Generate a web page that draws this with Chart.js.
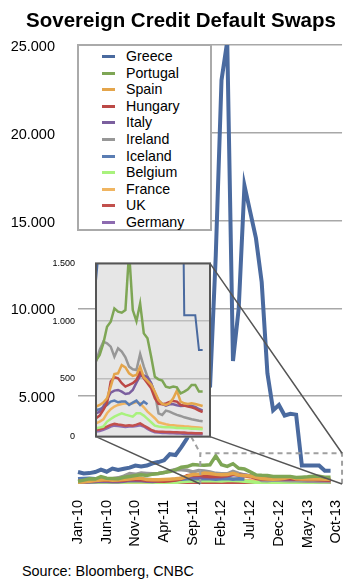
<!DOCTYPE html>
<html>
<head>
<meta charset="utf-8">
<script src="https://cdn.jsdelivr.net/npm/chart.js@4"></script>
<style>
  body { margin: 0; background: #fff; font-family: "Liberation Sans", Arial, Helvetica, sans-serif; }
  #wrap { position: relative; width: 362px; height: 585px; overflow: hidden; }
  #title { position: absolute; left: 0; top: 7.6px; width: 362px; text-align: center; font-weight: bold; font-size: 20.5px; line-height: 24px; }
  #main { position: absolute; left: 0; top: 0; }
  #inset { position: absolute; left: 40px; top: 255px; }
  #legend { position: absolute; left: 77px; top: 44px; width: 131px; height: 181px; padding-top: 2px; border: 2px solid #aaa; background: #fff; }
  .item { position: relative; height: 16.6px; line-height: 16.6px; font-size: 14.2px; padding-left: 47px; }
  .item span { position: absolute; left: 23px; top: 7px; width: 13px; height: 3px; }
  #source { position: absolute; left: 22px; top: 562.5px; font-size: 14.4px; line-height: 17px; }
</style>
</head>
<body>
<div id="wrap">
  <canvas id="main" width="362" height="550"></canvas>
  <canvas id="inset" width="175" height="190"></canvas>
  <div id="legend"></div>
  <div id="title">Sovereign Credit Default Swaps</div>
  <div id="source">Source: Bloomberg, CNBC</div>
</div>
<script>
// monthly, Jan-10 .. Nov-13
const months = ["Jan-10","Feb-10","Mar-10","Apr-10","May-10","Jun-10","Jul-10","Aug-10","Sep-10","Oct-10","Nov-10","Dec-10",
  "Jan-11","Feb-11","Mar-11","Apr-11","May-11","Jun-11","Jul-11","Aug-11","Sep-11","Oct-11","Nov-11","Dec-11",
  "Jan-12","Feb-12","Mar-12","Apr-12","May-12","Jun-12","Jul-12","Aug-12","Sep-12","Oct-12","Nov-12","Dec-12",
  "Jan-13","Feb-13","Mar-13","Apr-13","May-13","Jun-13","Jul-13","Aug-13","Sep-13","Oct-13","Nov-13"];

const greece   = [680, 600, 620, 680, 820, 700, 880, 800, 870, 930, 1050, 1000, 1050, 1180, 1250, 1350, 1700, 1650, 2100, 2600,
  3500, 5000, 8000, 5500, 13000, 23000, 25200, 7000, 10000, 17000, 15500, 14000, 11500, 6300, 4200, 4500, 3900, 4000, 3950, 1050,
  1050, 1050, 1050, 750, 750];
const portugal = [150, 220, 300, 280, 420, 330, 320, 300, 380, 430, 480, 520, 480, 560, 600,
  658, 707, 808, 952, 995, 1110, 1082, 1073, 1096, 1600, 1096, 1000, 1154, 894, 851, 692, 519, 496, 485, 433, 424, 433, 427, 375, 390, 410, 447, 447, 390, 390];
const spain    = [100, 110, 150, 200, 230, 250, 220, 230, 250, 290, 330, 330, 250, 240, 240,
  260, 274, 294, 332, 433, 542, 548, 620, 600, 548, 525, 534, 606, 514, 482, 450, 389, 317, 283, 274, 288, 332, 398, 303, 288, 283, 288, 283, 274, 265];
const hungary  = [150, 160, 170, 200, 220, 210, 200, 200, 220, 260, 250, 240, 220, 200, 170,
  159, 182, 231, 288, 476, 514, 505, 462, 433, 447, 462, 490, 563, 505, 462, 418, 332, 283, 280, 288, 300, 309, 303, 274, 268, 260, 254, 242, 225, 213];
const italy    = [80, 90, 110, 130, 160, 140, 130, 130, 150, 200, 180, 180, 150, 140, 170,
  202, 216, 260, 323, 381, 398, 404, 389, 369, 375, 404, 467, 525, 528, 514, 462, 375, 312, 283, 268, 280, 280, 271, 265, 268, 271, 265, 257, 239, 225];
const ireland  = [150, 150, 180, 220, 250, 270, 300, 350, 450, 600, 550, 620, 600, 580, 600,
  650, 750, 822, 808, 779, 692, 765, 736, 687, 606, 583, 577, 715, 606, 519, 462, 375, 202, 188, 225, 216, 202, 188, 179, 167, 159, 150, 144, 138, 133];
const iceland  = [300, 320, 330, 300, 290, 280, 260, 250, 250, 270, 290, 280, 260, 240, 230,
  231, 237, 254, 274, 303, 312, 297, 303, 303, 274, 294, 312, 274, 303, 280];
const belgium  = [40, 40, 60, 80, 90, 80, 80, 80, 100, 130, 120, 130, 110, 90, 80,
  72, 78, 87, 130, 153, 173, 188, 202, 190, 182, 173, 202, 202, 182, 153, 124, 95, 87, 84, 81, 81, 78, 75, 75, 72, 72, 69, 69, 66, 63];
const france   = [50, 50, 60, 70, 80, 70, 70, 70, 80, 100, 100, 95, 90, 80, 100,
  115, 130, 150, 202, 237, 260, 274, 283, 288, 283, 288, 300, 288, 254, 216, 188, 159, 124, 115, 107, 101, 98, 95, 92, 89, 87, 84, 81, 78, 75];
const uk       = [70, 75, 80, 80, 85, 75, 70, 65, 70, 70, 70, 65, 60, 55, 55,
  58, 63, 72, 87, 101, 110, 104, 101, 95, 98, 95, 104, 115, 95, 78, 58, 46, 43, 43, 40, 40, 37, 37, 35, 35, 32, 32, 29, 29, 29];
const germany  = [40, 40, 45, 50, 50, 45, 40, 40, 45, 55, 55, 50, 45, 40, 40,
  43, 49, 58, 72, 87, 95, 92, 87, 84, 87, 87, 92, 98, 87, 66, 49, 37, 35, 32, 32, 29, 29, 26, 26, 23, 23, 23, 20, 20, 20];

const countries = ["Greece", "Portugal", "Spain", "Hungary", "Italy", "Ireland", "Iceland", "Belgium", "France", "UK", "Germany"];
const series = [greece, portugal, spain, hungary, italy, ireland, iceland, belgium, france, uk, germany];
const colors = ["#4a6a9f", "#7ea655", "#e4a54b", "#bc4946", "#7b5f9e", "#979797", "#5a7db3", "#a9f27d", "#f0b561", "#c2504d", "#8d6bb0"];

const insetStart = 15;        // inset begins Apr-11
const zoomFrom = 21.3;        // dashed box: from ~Oct-11 ...
const zoomTop = 1750;         // ... up to this level

const FONT = '"Liberation Sans", Arial, Helvetica, sans-serif';
const fmt = v => String(v).replace(/\B(?=(\d{3})+(?!\d))/g, ".");

// legend
const legend = document.getElementById("legend");
countries.forEach((c, i) => {
  const row = document.createElement("div");
  row.className = "item";
  row.innerHTML = `<span style="background:${colors[i]}"></span>${c}`;
  legend.appendChild(row);
});

// zoomed inset
const insetFrame = {
  id: "insetFrame",
  beforeDraw(chart) {
    const a = chart.chartArea, ctx = chart.ctx;
    ctx.save();
    ctx.fillStyle = "#e6e6e6";
    ctx.fillRect(a.left, a.top, a.right - a.left, a.bottom - a.top);
    ctx.restore();
  },
  afterDraw(chart) {
    const a = chart.chartArea, ctx = chart.ctx;
    ctx.save();
    ctx.strokeStyle = "#555";
    ctx.lineWidth = 2;
    ctx.strokeRect(a.left, a.top, a.right - a.left, a.bottom - a.top);
    ctx.restore();
  }
};

const insetChart = new Chart(document.getElementById("inset"), {
  type: "line",
  data: {
    labels: months.slice(insetStart),
    datasets: series.map((s, i) => ({
      label: countries[i],
      data: s.slice(insetStart),
      borderColor: colors[i],
      borderWidth: i === 0 ? 2 : 2.5,
      pointRadius: 0,
      fill: false
    }))
  },
  options: {
    responsive: false,
    animation: false,
    layout: { padding: { top: 8, right: 5, bottom: 8, left: 0 } },
    plugins: { legend: { display: false }, tooltip: { enabled: false } },
    scales: {
      x: { display: false },
      y: {
        min: 0, max: 1500,
        ticks: { stepSize: 500, padding: 3, color: "#000", font: { family: FONT, size: 9 }, callback: v => fmt(v) },
        grid: { color: "#bdbdbd", lineWidth: 1.5, drawTicks: true, tickLength: 18, tickColor: "rgba(0,0,0,0)" },
        border: { display: false },
        afterFit: s => { s.width = 56; }
      }
    }
  },
  plugins: [insetFrame]
});

// dashed zoom box + connectors to the inset
const zoomBox = {
  id: "zoomBox",
  afterDatasetsDraw(chart) {
    const ctx = chart.ctx, x = chart.scales.x, y = chart.scales.y;
    const bx0 = x.getPixelForValue(zoomFrom), bx1 = x.right;
    const by0 = y.getPixelForValue(zoomTop), by1 = y.bottom;
    const cv = insetChart.canvas, ia = insetChart.chartArea;
    const il = cv.offsetLeft + ia.left, ir = cv.offsetLeft + ia.right;
    const it = cv.offsetTop + ia.top, ib = cv.offsetTop + ia.bottom;

    ctx.save();
    ctx.strokeStyle = "#a0a0a0";
    ctx.lineWidth = 2;
    ctx.setLineDash([5, 4]);
    ctx.beginPath();
    ctx.moveTo(bx0, by1); ctx.lineTo(bx0, by0); ctx.lineTo(bx1, by0); ctx.lineTo(bx1, by1);
    ctx.moveTo(il, it); ctx.lineTo(bx0, by0);
    ctx.stroke();

    ctx.setLineDash([]);
    ctx.strokeStyle = "#555";
    ctx.lineWidth = 1.5;
    ctx.beginPath();
    ctx.moveTo(il, ib); ctx.lineTo(bx0, by1);
    ctx.moveTo(ir, it); ctx.lineTo(bx1, by0);
    ctx.moveTo(ir, ib); ctx.lineTo(bx1, by1);
    ctx.stroke();
    ctx.restore();
  }
};

new Chart(document.getElementById("main"), {
  type: "line",
  data: {
    labels: months,
    datasets: series.map((s, i) => ({
      label: countries[i],
      data: s,
      borderColor: colors[i],
      borderWidth: i === 0 ? 4 : 3.5,
      pointRadius: 0,
      fill: false
    }))
  },
  options: {
    responsive: false,
    animation: false,
    layout: { padding: { top: 45, right: 14, left: 10, bottom: 0 } },
    plugins: { legend: { display: false }, tooltip: { enabled: false } },
    scales: {
      x: {
        grid: { display: false },
        border: { display: false },
        ticks: {
          autoSkip: false, minRotation: 90, maxRotation: 90, padding: 8,
          color: "#000", font: { family: FONT, size: 14.5 },
          callback: (v, i) => (i % 5 === 0 ? months[i] : null)
        },
        afterFit: s => { s.height = 66; }
      },
      y: {
        min: 0, max: 25000,
        ticks: {
          stepSize: 5000, padding: 23, labelOffset: 2, color: "#000", font: { family: FONT, size: 14.5 },
          callback: v => (v === 0 ? null : fmt(v))
        },
        grid: { color: "#a8a8a8", lineWidth: 1.5, drawTicks: false },
        border: { display: false },
        afterFit: s => { s.width = 68; }
      }
    }
  },
  plugins: [zoomBox]
});
</script>
</body>
</html>
